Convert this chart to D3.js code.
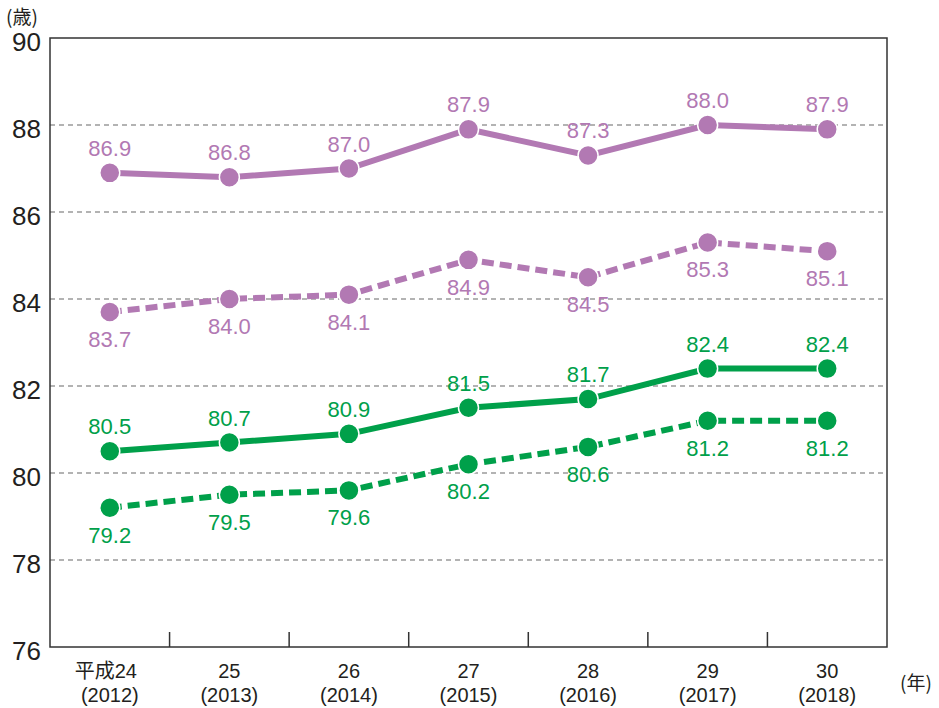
<!DOCTYPE html>
<html>
<head>
<meta charset="utf-8">
<script src="https://cdn.jsdelivr.net/npm/d3@7"></script>
<style>
body{margin:0;background:#fff;}
text{font-family:"Liberation Sans",Arial,sans-serif;}
.jp{font-family:"Noto Sans CJK JP","Noto Sans",sans-serif;}
.xlab{font-family:"Liberation Sans","Noto Sans CJK JP",sans-serif;}
</style>
</head>
<body>
<div id="root"></div>
<script>
// data
var years=['2012','2013','2014','2015','2016','2017','2018'];
var labelTop=['平成24','25','26','27','28','29','30'];
var labelBottom=['(2012)','(2013)','(2014)','(2015)','(2016)','(2017)','(2018)'];
var yTicks=[76,78,80,82,84,86,88,90];
var purpleSolid=[86.9,86.8,87.0,87.9,87.3,88.0,87.9];
var purpleDash=[83.7,84.0,84.1,84.9,84.5,85.3,85.1];
var greenSolid=[80.5,80.7,80.9,81.5,81.7,82.4,82.4];
var greenDash=[79.2,79.5,79.6,80.2,80.6,81.2,81.2];

var purple='#b279b3', green='#00a04a';

var margin={t:38,r:52,b:61,l:50};
var W=939,H=708;
var w=W-margin.l-margin.r, h=H-margin.t-margin.b;

var svg=d3.select('#root').append('svg')
    .attr('width',W).attr('height',H)
var g=svg.append('g').attr('transform','translate('+margin.l+','+margin.t+')');

var xScale=d3.scaleBand().domain(years).range([0,w]);
var yScale=d3.scaleLinear().domain([76,90]).range([h,0]);

// gridlines
g.selectAll('.grid').data(yTicks.filter(function(d){return d>76&&d<90})).enter()
  .append('line').attr('class','grid')
  .attr('x1',0).attr('x2',w)
  .attr('y1',function(d){return yScale(d)}).attr('y2',function(d){return yScale(d)})
  .attr('stroke','#9a9a9a').attr('stroke-width',1.5).attr('stroke-dasharray','5,4');

// frame
g.append('rect').attr('x',0).attr('y',0).attr('width',w).attr('height',h)
  .attr('fill','none').attr('stroke','#333').attr('stroke-width',1.5);

// x ticks between bands
g.selectAll('.xtick').data(years.slice(1)).enter().append('line')
  .attr('x1',function(d){return xScale(d)}).attr('x2',function(d){return xScale(d)})
  .attr('y1',h).attr('y2',h-15).attr('stroke','#333').attr('stroke-width',1.5);

// y labels
g.selectAll('.ylab').data(yTicks).enter().append('text')
  .attr('x',-9).attr('y',function(d){return yScale(d)+13})
  .attr('text-anchor','end').attr('font-size',26).attr('fill','#231f20')
  .text(function(d){return d});

// x labels
var cx=function(i){return xScale(years[i])+xScale.bandwidth()/2};
g.selectAll('.xl1').data(labelTop).enter().append('text').attr('class','xlab')
  .attr('x',function(d,i){return cx(i)+(i==0?-4:0)}).attr('y',h+31)
  .attr('text-anchor','middle').attr('font-size',20).attr('fill','#231f20')
  .text(function(d){return d});
g.selectAll('.xl2').data(labelBottom).enter().append('text').attr('class','xlab')
  .attr('x',function(d,i){return cx(i)}).attr('y',h+55)
  .attr('text-anchor','middle').attr('font-size',20).attr('fill','#231f20')
  .text(function(d){return d});

svg.append('text').attr('class','jp').attr('x',6).attr('y',24).attr('font-size',19).attr('fill','#231f20').text('(歳)');
svg.append('text').attr('class','jp').attr('x',900).attr('y',690).attr('font-size',19).attr('fill','#231f20').text('(年)');

var series=[
  {vals:purpleSolid,color:purple,dash:null,above:true},
  {vals:purpleDash,color:purple,dash:'12,6',above:false},
  {vals:greenSolid,color:green,dash:null,above:true},
  {vals:greenDash,color:green,dash:'12,6',above:false}
];

var line=d3.line().x(function(d,i){return cx(i)}).y(function(d){return yScale(d)});

series.forEach(function(s){
  g.append('path').datum(s.vals).attr('d',line)
    .attr('fill','none').attr('stroke',s.color).attr('stroke-width',6)
    .attr('stroke-dasharray',s.dash);
  g.selectAll(null).data(s.vals).enter().append('circle')
    .attr('cx',function(d,i){return cx(i)}).attr('cy',function(d){return yScale(d)})
    .attr('r',10).attr('fill',s.color).attr('stroke','#fff').attr('stroke-width',1.5);
  g.selectAll(null).data(s.vals).enter().append('text')
    .attr('x',function(d,i){return cx(i)})
    .attr('y',function(d){return s.above?yScale(d)-17:yScale(d)+35})
    .attr('text-anchor','middle').attr('font-size',22).attr('fill',s.color)
    .text(function(d){return d.toFixed(1)});
});
</script>
</body>
</html>
